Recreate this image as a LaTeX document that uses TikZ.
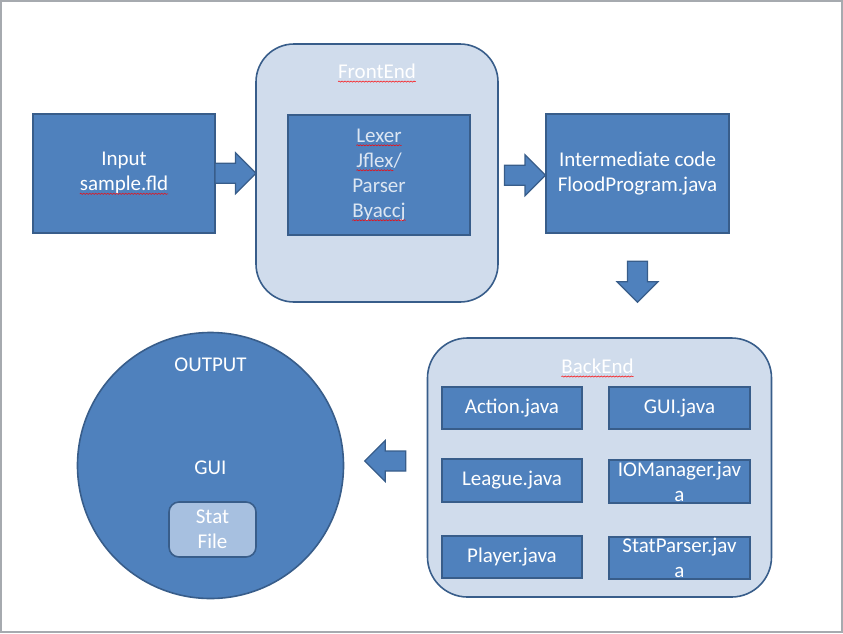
\documentclass[tikz,border=0pt]{standalone}
\usepackage{fontspec}
\setmainfont{Carlito}
\usetikzlibrary{
    calc,
    decorations.pathmorphing
}

\definecolor{boxblue}{HTML}{4F81BD}
\definecolor{boxline}{HTML}{385D8A}
\definecolor{paleblue}{HTML}{D0DCEC}
\definecolor{statblue}{HTML}{A7C0E0}
\definecolor{framegray}{HTML}{A6AAAF}
\definecolor{softtext}{HTML}{DCE6F2}

\tikzset{
    bluebox/.style={draw=boxline, fill=boxblue, line width=1.6pt, text=white, align=center, inner sep=2pt},
    container/.style={draw=boxline, fill=paleblue, line width=1.6pt, rounded corners=38pt},
    lbl/.style={text=white},
    arrowshape/.style={draw=boxline, fill=boxblue, line width=1.2pt, line join=miter},
    spellword/.style={shape=rectangle, draw=none, fill=none, sharp corners, minimum width=0pt, minimum height=0pt, inner sep=0pt, outer sep=0pt},
    spellline/.style={draw=red, fill=none, sharp corners, line width=0.5pt, decorate, decoration={snake, amplitude=0.6pt, segment length=3pt}},
    blockarrow/.pic={
        \draw[arrowshape] (-20.5,-10) -- (0,-10) -- (0,-20.5) -- (20.5,0) -- (0,20.5) -- (0,10) -- (-20.5,10) -- cycle;
    }
}

% word with spell-check mark
\newcommand{\spell}[1]{\tikz[baseline=(w.base)]{\node[spellword] (w) {#1}; \draw[spellline] ([yshift=-3pt]w.base west) -- ([yshift=-3pt]w.base east);}}

\begin{document}
\begin{tikzpicture}[x=1pt, y=-1pt, font=\fontsize{21}{25}\selectfont]

\useasboundingbox (0,0) rectangle (843,633);
\draw[framegray, line width=2pt] (1,1) rectangle (842,632);

%====================================================
% Input and FrontEnd
%====================================================

\node[bluebox, minimum width=182, minimum height=119] (in) at (124,173.5) {Input\\\spell{sample.fld}};

\node[container, minimum width=242, minimum height=258] (fe) at (377,173) {};
\node[lbl] (felbl) at ($(fe.north)+(0,30)$) {\spell{FrontEnd}};

\node[bluebox, text=softtext, minimum width=182, minimum height=120] (lex) at (379,175)
    {\spell{Lexer}\\\spell{Jflex}/\\Parser\\\spell{Byaccj}};

\pic at ($(in.east)!0.5!(fe.west)$) {blockarrow};

%====================================================
% Intermediate code
%====================================================

\node[bluebox, minimum width=183, minimum height=119] (ic) at (637.5,173.5) {Intermediate code\\FloodProgram.java};

\pic at ($(fe.east)!0.5!(ic.west)+(3,2)$) {blockarrow};
\pic[rotate=-90] at ($(ic.south)+(0,48)$) {blockarrow};

%====================================================
% BackEnd
%====================================================

\node[container, rounded corners=40pt, minimum width=344, minimum height=259] (be) at (599.5,467.5) {};
\node[lbl] (belbl) at ($(be.north)+(-2,31)$) {\spell{BackEnd}};

\node[bluebox, minimum width=140, minimum height=42] (act) at (512,408) {Action.java};
\node[bluebox, minimum width=141, minimum height=42] (gui) at (679.5,408) {GUI.java};
\node[bluebox, minimum width=140, minimum height=43] (lea) at (512,480.5) {League.java};
\node[bluebox, minimum width=141, minimum height=43, inner sep=0pt] (iom) at (679.5,481.5) {IOManager.jav\\a};
\node[bluebox, minimum width=140, minimum height=42] (ply) at (512,557) {Player.java};
\node[bluebox, minimum width=141, minimum height=42, inner sep=0pt] (stp) at (679.5,558) {StatParser.jav\\a};

%====================================================
% OUTPUT
%====================================================

\node[bluebox, circle, minimum size=266] (out) at (210.5,465.5) {};
\node[lbl] (outlbl) at ($(out.north)+(0,33)$) {OUTPUT};
\node[lbl] (guilbl) at ($(out.center)+(0,2)$) {GUI};
\node[bluebox, fill=statblue, rounded corners=10pt, minimum width=87, minimum height=55] (sf) at (212.5,529.5) {Stat\\File};

\pic[rotate=180] at ($(be.west)+(-41.5,-6.5)$) {blockarrow};

\end{tikzpicture}
\end{document}
